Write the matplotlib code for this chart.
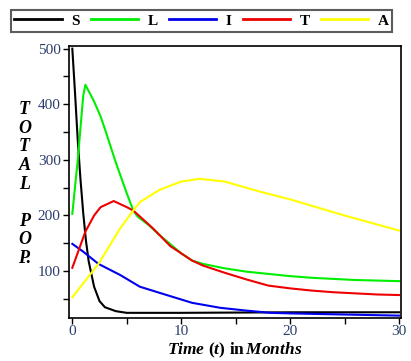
import matplotlib
matplotlib.use('Agg')
import matplotlib.pyplot as plt
from matplotlib.lines import Line2D
from matplotlib.ticker import MultipleLocator

# S: susceptible
t_s = [0, 0.25, 0.5, 0.75, 1, 1.25, 1.5, 1.75, 2, 2.5, 3, 4, 5, 10, 20, 30]
s_vals = [500, 420, 335, 265, 205, 155, 118, 95, 72, 46, 35, 28, 25, 25, 26, 26]
# L
t_l = [0, 0.5, 1, 1.2, 2, 2.6, 3, 4, 5, 5.6, 6, 7, 8, 10, 11, 12, 14, 16, 18, 20, 22, 24, 26, 28, 30]
l_vals = [203, 300, 415, 435, 405, 378, 355, 295, 240, 209, 198, 183, 165, 132, 119, 113, 105, 99, 95, 91, 88, 86, 84, 83, 82]
# I
t_i = [0, 1, 2.4, 4.4, 6.2, 9, 11, 13.6, 16, 18.2, 20, 25, 30]
i_vals = [149, 135, 113, 93, 72, 55, 43, 34, 29, 25, 24, 22, 20]
# T
t_t = [0, 1.2, 2, 2.6, 3.8, 5, 5.6, 7.4, 9, 11, 12, 14, 16, 18, 20, 22, 24, 26, 28, 30]
t_vals = [106, 171, 200, 215, 226, 215, 209, 177, 145, 119, 110, 97, 85, 74, 69, 65, 62, 60, 58, 57]
# A
t_a = [0, 2.4, 4.4, 5.6, 6.2, 8, 10, 11.7, 14, 17.2, 20, 25, 30]
a_vals = [53, 113, 177, 209, 224, 246, 261, 266, 261, 243, 229, 200, 173]

names = ['S', 'L', 'I', 'T', 'A']
colors = ['black', '#00ee00', '#0000ee', '#ee0000', '#ffff00']

plt.rcParams['font.family'] = 'Liberation Serif'
plt.rcParams['mathtext.fontset'] = 'custom'
plt.rcParams['mathtext.rm'] = 'Liberation Serif:bold'
plt.rcParams['mathtext.it'] = 'Liberation Serif:bold:italic'

fig = plt.figure(figsize=(4.11, 3.61), dpi=100)
ax = fig.add_axes([0.168, 0.118, 0.808, 0.755])

series = [(t_s, s_vals), (t_l, l_vals), (t_i, i_vals), (t_t, t_vals), (t_a, a_vals)]
for (tt, vv), c in zip(series, colors):
    ax.plot(tt, vv, color=c, lw=1.5)

ax.set_xlim(-0.3, 30.2)
ax.set_ylim(15, 505)
ax.xaxis.set_major_locator(MultipleLocator(10))
ax.xaxis.set_minor_locator(MultipleLocator(5))
ax.yaxis.set_major_locator(MultipleLocator(100))
ax.yaxis.set_minor_locator(MultipleLocator(50))
ax.tick_params(which='both', direction='out', labelsize=11, labelcolor='#2b3d6b',
               width=1, length=4, pad=2)
ax.tick_params(axis='x', pad=1)
for sp in ax.spines.values():
    sp.set_linewidth(1.2)

fig.text(0.06, 0.49, 'T\nO\nT\nA\nL\n\nP\nO\nP.', ha='center', va='center',
         fontsize=13, fontweight='bold', fontstyle='italic', linespacing=1.12)
fig.text(0.571, 0.004, r'$Time\ (t)\ \mathrm{in}\,Months$', ha='center', va='bottom',
         fontsize=12.5)

handles = [Line2D([], [], color=c, lw=2) for c in colors]
leg = fig.legend(handles, names, loc='center', ncol=5,
                 bbox_to_anchor=(0.49, 0.942),
                 handlelength=3.1, handletextpad=0.6, columnspacing=0.75,
                 borderaxespad=0, borderpad=0.25, fancybox=False,
                 prop={'weight': 'bold', 'size': 11})
leg.get_frame().set_edgecolor('#333333')
leg.get_frame().set_linewidth(1.5)

fig.savefig('out.png', dpi=100)
